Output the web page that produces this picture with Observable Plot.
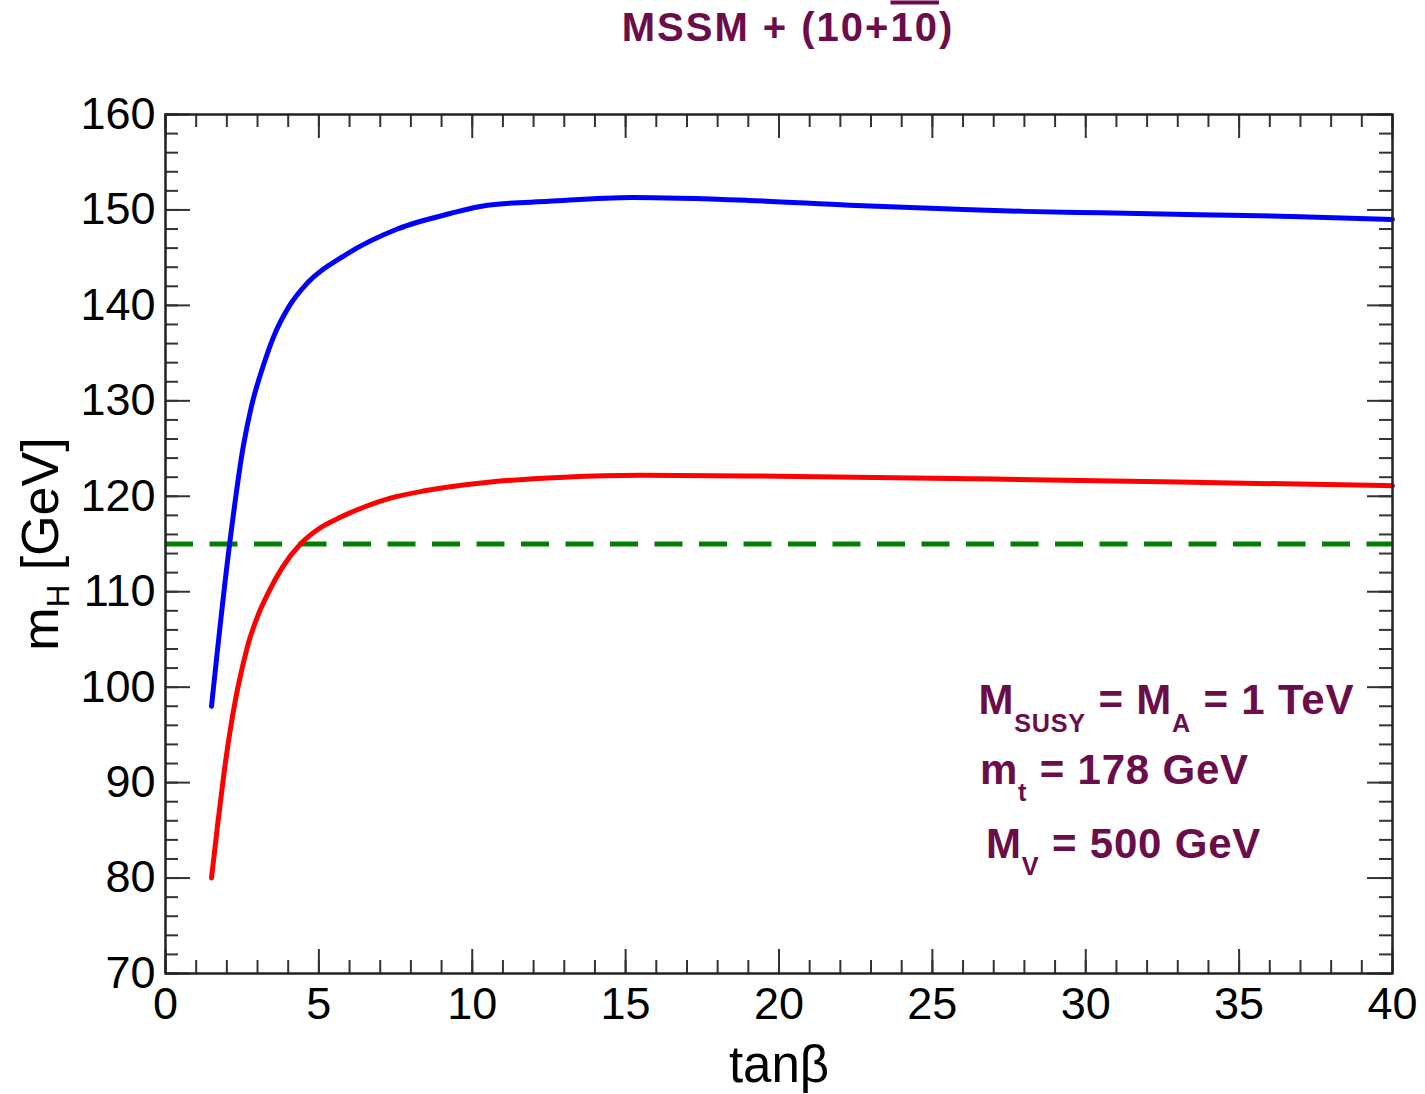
<!DOCTYPE html>
<html>
<head>
<meta charset="utf-8">
<script src="https://cdn.jsdelivr.net/npm/d3@7"></script>
<script src="https://cdn.jsdelivr.net/npm/@observablehq/plot@0.6"></script>
<style>
  html, body { margin: 0; padding: 0; background: #ffffff; }
  #chart svg { display: block; }
</style>
</head>
<body>
<div id="chart"></div>
<script>
// ---- data ----
const upperTanB = [1.5, 2.09, 2.54, 2.8, 3.2, 3.51, 4.07, 4.64, 5.87, 7.56, 9.25, 10.5, 12.5, 15.2, 19.0, 22.3, 25.6, 28.0, 30.5, 33.7, 37.0, 40.0];
const upperMH   = [98.0, 115.0, 125.3, 129.4, 133.8, 136.6, 140.1, 142.4, 145.3, 148.0, 149.6, 150.5, 150.9, 151.3, 151.0, 150.5, 150.1, 149.85, 149.7, 149.5, 149.3, 149.0];
const lowerTanB = [1.5, 1.7, 1.9, 2.1, 2.3, 2.5, 2.72, 3.0, 3.37, 3.8, 4.4, 5.0, 5.7, 6.5, 7.33, 8.5, 10.6, 13.0, 15.5, 20.0, 27.0, 33.0, 40.0];
const lowerMH   = [80.0, 85.6, 90.8, 95.3, 99.0, 102.0, 104.8, 107.4, 110.0, 112.5, 115.0, 116.6, 117.8, 118.9, 119.8, 120.6, 121.5, 122.0, 122.2, 122.1, 121.8, 121.5, 121.1];
const lepBound = [115];
const xTicks = [0, 5, 10, 15, 20, 25, 30, 35, 40];
const xMinor = d3.range(0, 41, 1);
const yTicks = [70, 80, 90, 100, 110, 120, 130, 140, 150, 160];
const yMinor = d3.range(70, 161, 2);
const titleText = ["MSSM + (10+~{10})"];
const xLabel = ["tanβ"];
const yLabel = ["m_{H} [GeV]"];
const annotTanB = [26.5, 26.55, 26.75];
const annotMH = [97.2, 89.9, 82.15];
const annotText = ["M_{SUSY} = M_{A} = 1 TeV", "m_{t} = 178 GeV", "M_{V} = 500 GeV"];

// ---- tables ----
const upper = upperTanB.map((t, i) => ({t, m: upperMH[i]}));
const lower = lowerTanB.map((t, i) => ({t, m: lowerMH[i]}));
const annots = annotText.map((s, i) => ({t: annotTanB[i], m: annotMH[i], s}));

const W = 1425, H = 1094;
const mL = 165, mR = 33, mT = 114, mB = 121;
const fw = W - mL - mR, fh = H - mT - mB;
const maroon = "#6b0d4b";
const tickCol = "#333";

const chart = Plot.plot({
  width: W, height: H,
  marginLeft: mL, marginRight: mR, marginTop: mT, marginBottom: mB,
  style: {fontFamily: "'Liberation Sans', Arial, Helvetica, sans-serif", fontSize: "45px", color: "#000", background: "#ffffff", overflow: "visible"},
  x: {domain: [0, 40]},
  y: {domain: [70, 160]},
  marks: [
    // inward ticks on all four sides
    Plot.ruleX(xMinor, {insetTop: fh - 13, stroke: tickCol, strokeWidth: 2}),
    Plot.ruleX(xTicks, {insetTop: fh - 24, stroke: tickCol, strokeWidth: 2}),
    Plot.ruleX(xMinor, {insetBottom: fh - 13, stroke: tickCol, strokeWidth: 2}),
    Plot.ruleX(xTicks, {insetBottom: fh - 24, stroke: tickCol, strokeWidth: 2}),
    Plot.ruleY(yMinor, {insetRight: fw - 13, stroke: tickCol, strokeWidth: 2}),
    Plot.ruleY(yTicks, {insetRight: fw - 25, stroke: tickCol, strokeWidth: 2}),
    Plot.ruleY(yMinor, {insetLeft: fw - 13, stroke: tickCol, strokeWidth: 2}),
    Plot.ruleY(yTicks, {insetLeft: fw - 25, stroke: tickCol, strokeWidth: 2}),
    Plot.axisX(xTicks, {tickSize: 0, tickPadding: 14, label: null, fontSize: 45}),
    Plot.axisY(yTicks, {tickSize: 0, tickPadding: 10, label: null, fontSize: 45}),
    Plot.ruleY(lepBound, {stroke: "#008000", strokeWidth: 5, strokeDasharray: "28,16.5"}),
    Plot.line(lower, {x: "t", y: "m", stroke: "#ff0000", strokeWidth: 5, curve: "monotone-x"}),
    Plot.line(upper, {x: "t", y: "m", stroke: "#0000ff", strokeWidth: 5, curve: "monotone-x"}),
    Plot.frame({stroke: "#222", strokeWidth: 2.5}),
    Plot.text(annots, {x: "t", y: "m", text: "s", textAnchor: "start", lineAnchor: "bottom", fill: maroon, fontWeight: "bold", fontSize: 42}),
    Plot.text(titleText, {frameAnchor: "top", text: d => d, dy: -74, dx: 9, lineAnchor: "bottom", fill: maroon, fontWeight: "bold", fontSize: 40}),
    Plot.text(xLabel, {frameAnchor: "bottom", text: d => d, dy: 108, lineAnchor: "bottom", fill: "#000", fontSize: 51}),
    Plot.text(yLabel, {frameAnchor: "left", text: d => d, dx: -108, dy: 0, rotate: -90, textAnchor: "middle", lineAnchor: "bottom", fill: "#000", fontSize: 52})
  ]
});
document.getElementById("chart").appendChild(chart);

// ---- rich text: _{sub} subscripts, ~{...} overline ----
const NS = "http://www.w3.org/2000/svg";
const subShift = {"m_{H} [GeV]": 0.22};
d3.select(chart).selectAll("text").each(function() {
  const src = this.textContent;
  if (!/[_~]\{/.test(src)) return;
  const shift = subShift[src] ?? 0.42;
  const scale = 0.6;
  this.textContent = "";
  const re = /([_~])\{([^}]*)\}|([^_~]+)/g;
  let m, down = false;
  while ((m = re.exec(src))) {
    const t = document.createElementNS(NS, "tspan");
    if (m[1] === "_") {
      t.textContent = m[2];
      t.setAttribute("font-size", scale + "em");
      t.setAttribute("dy", (shift / scale) + "em");
      down = true;
    } else {
      t.textContent = m[1] === "~" ? m[2] : m[3];
      if (m[1] === "~") t.setAttribute("text-decoration", "overline");
      if (down) { t.setAttribute("dy", (-shift) + "em"); down = false; }
    }
    this.appendChild(t);
  }
});
d3.select(chart).selectAll("text").filter(function() { return this.textContent.startsWith("MSSM"); })
  .attr("letter-spacing", "2px");
d3.select(chart).selectAll("text").filter(function() { return /GeV|TeV/.test(this.textContent) && this.getAttribute("fill") === maroon || (this.parentNode && this.parentNode.getAttribute && this.parentNode.getAttribute("fill") === maroon && /GeV|TeV/.test(this.textContent)); })
  .attr("letter-spacing", "0.8px");
</script>
</body>
</html>
